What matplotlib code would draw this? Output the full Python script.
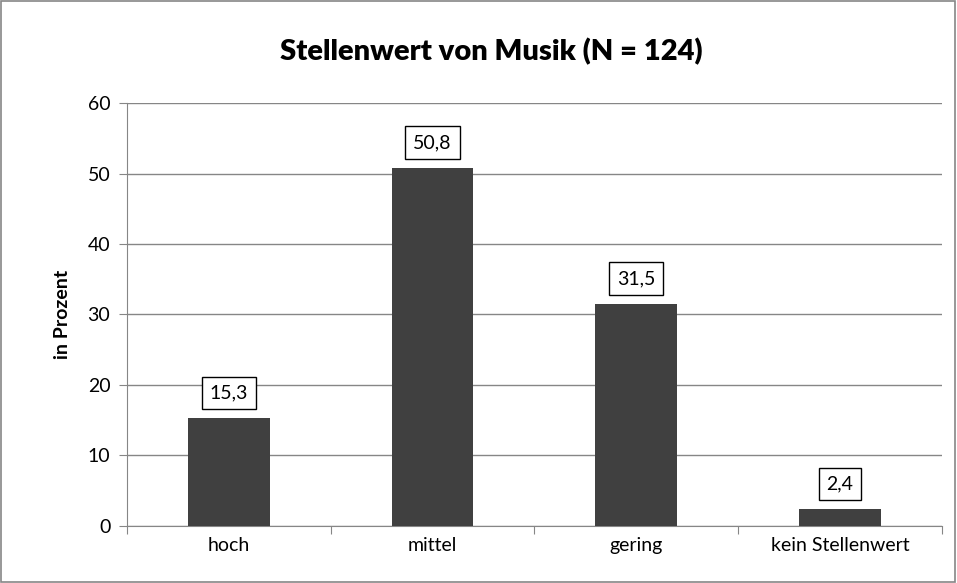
import matplotlib.pyplot as plt
from matplotlib.patches import Rectangle

categories = ['hoch', 'mittel', 'gering', 'kein Stellenwert']
values = [15.3, 50.8, 31.5, 2.4]
labels = ['15,3', '50,8', '31,5', '2,4']

plt.rcParams['font.family'] = ['Lato', 'DejaVu Sans']

fig = plt.figure(figsize=(9.57, 5.83), dpi=100)
ax = fig.add_axes([0.1327, 0.0978, 0.8513, 0.7255])

x = range(len(categories))
ax.bar(x, values, width=0.40, color='#404040', zorder=3)

# value labels in boxes
for i, v in enumerate(values):
    ax.annotate(labels[i], (i, v), xytext=(0, 12), textcoords='offset points',
                ha='center', va='bottom', fontsize=14,
                bbox=dict(boxstyle='square,pad=0.4', fc='white', ec='black', lw=1), zorder=4)

ax.set_xlim(-0.5, 3.5)
ax.set_ylim(0, 60)
ax.set_yticks(range(0, 61, 10))
ax.set_xticks([-0.5, 0.5, 1.5, 2.5, 3.5])
ax.set_xticklabels([])
ax.set_xticks(list(x), minor=True)
ax.set_xticklabels(categories, minor=True, fontsize=14)
ax.tick_params(axis='x', which='minor', length=0, pad=8)
ax.tick_params(axis='x', which='major', length=6, color='#868686', direction='out')
ax.tick_params(axis='y', length=6, color='#868686', labelsize=14, pad=6)

ax.grid(axis='y', color='#868686', lw=1, zorder=0)
for s in ['top', 'right']:
    ax.spines[s].set_visible(False)
ax.spines['left'].set_color('#868686')
ax.spines['bottom'].set_color('#868686')

ax.set_ylabel('in Prozent', fontsize=14, fontweight='bold', labelpad=12)
fig.text(0.513, 0.911, 'Stellenwert von Musik (N = 124)', ha='center', va='center',
         fontsize=21, fontweight='heavy')

# outer border
fig.patches.append(Rectangle((0.001, 0.002), 0.997, 0.996, transform=fig.transFigure,
                             fill=False, ec='#868686', lw=1.2))

plt.savefig('out.png', dpi=100)
